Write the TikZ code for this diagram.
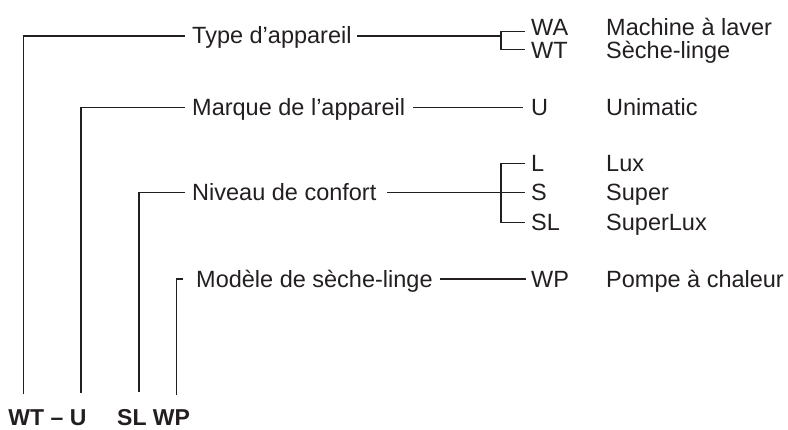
\documentclass[tikz,border=0pt]{standalone}
\usepackage{fontspec}
\setmainfont{Liberation Sans}
\definecolor{ink}{HTML}{231F20}
\begin{document}
\begin{tikzpicture}[x=1pt,y=-1pt,
  lbl/.style={anchor=base west,inner sep=0pt,font=\fontsize{23.5}{27}\selectfont,text=ink},
  boldlbl/.style={lbl,font=\fontsize{23}{27}\selectfont\bfseries},
  conn/.style={draw=ink,line width=1.1pt}]
\useasboundingbox (0,0) rectangle (788,429);
% main labels
\node[lbl] (type) at (192,43.3) {Type d’appareil};
\node[lbl] (marque) at (192,115) {Marque de l’appareil};
\node[lbl] (niveau) at (192,200.5) {Niveau de confort};
\node[lbl] (modele) at (196,287) {Modèle de sèche-linge};
% codes
\node[lbl] (wa) at (531,35.5) {WA};
\node[lbl] (wt) at (531,58) {WT};
\node[lbl] (u) at (531,115) {U};
\node[lbl] (l) at (531,171.3) {L};
\node[lbl] (s) at (531,200.5) {S};
\node[lbl] (sl) at (531,230.7) {SL};
\node[lbl] (wp) at (531,287) {WP};
% descriptions
\node[lbl] (dwa) at (606,35.5) {Machine à laver};
\node[lbl] (dwt) at (606,58) {Sèche-linge};
\node[lbl] (du) at (606,115) {Unimatic};
\node[lbl] (dl) at (606,171.3) {Lux};
\node[lbl] (ds) at (606,200.5) {Super};
\node[lbl] (dsl) at (606,230.7) {SuperLux};
\node[lbl] (dwp) at (606,287) {Pompe à chaleur};
% bottom code
\node[boldlbl] (codeA) at (8.3,425.5) {WT – U};
\node[boldlbl] (codeB) at (117,425.5) {SL WP};
% coordinates
\coordinate (b1) at (23.3,394);  \coordinate (e1) at (185,36);
\coordinate (b2) at (81,393);    \coordinate (e2) at (185,107.5);
\coordinate (b3) at (139,392);   \coordinate (e3) at (185,192.7);
\coordinate (b4) at (176.5,395); \coordinate (e4) at (183,279);
\coordinate (r1s) at (357,36);   \coordinate (r1k) at (501,36);
\coordinate (wae) at (525,31.7); \coordinate (wte) at (525,49.3);
\coordinate (r2s) at (413,107.5); \coordinate (ue) at (523,107.5);
\coordinate (r3s) at (387,192.6); \coordinate (se) at (525,192.6);
\coordinate (le) at (525,163.3); \coordinate (sle) at (525,222.7);
\coordinate (r4s) at (440,279);  \coordinate (wpe) at (526,279);
% left connectors
\draw[conn] (b1) |- (e1);
\draw[conn] (b2) |- (e2);
\draw[conn] (b3) |- (e3);
\draw[conn] (b4) |- (e4);
% right connectors
\draw[conn] (r1s) -- (r1k);
\draw[conn] (wae) -| (r1k) |- (wte);
\draw[conn] (r2s) -- (ue);
\draw[conn] (r3s) -- (se);
\draw[conn] (le) -| (501,192.6) |- (sle);
\draw[conn] (r4s) -- (wpe);
\end{tikzpicture}
\end{document}
